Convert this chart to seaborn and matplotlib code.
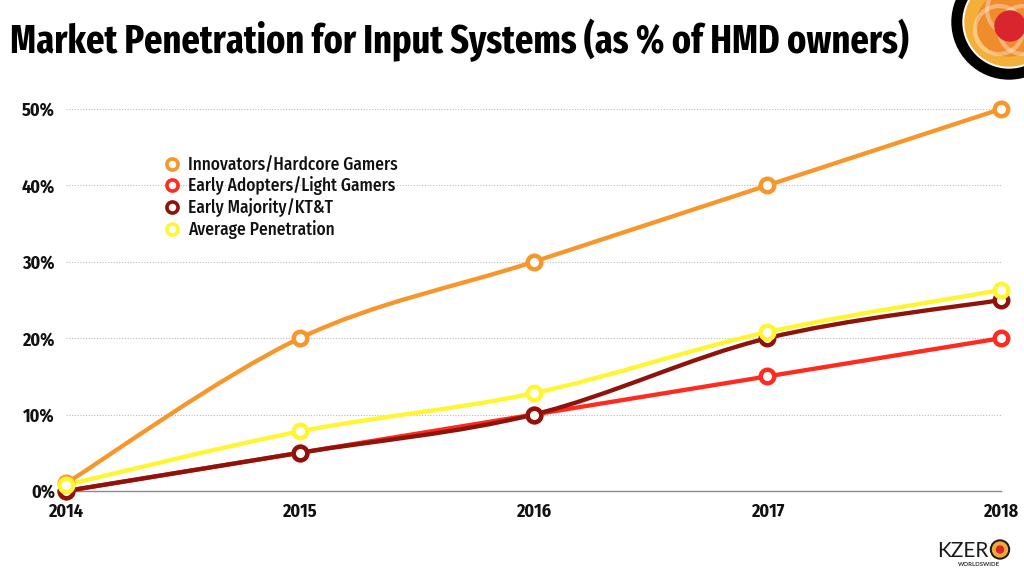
import numpy as np
import matplotlib
matplotlib.use("Agg")
import matplotlib.pyplot as plt
from matplotlib.path import Path
from matplotlib.patches import PathPatch, Circle
from matplotlib.lines import Line2D
import seaborn as sns
import pandas as pd

# --- data ---
years = [2014, 2015, 2016, 2017, 2018]
innovators = [1, 20, 30, 40, 50]
early_adopters = [0, 5, 10, 15, 20]
early_majority = [0, 5, 10, 20, 25]
average_pen = [0.8, 7.8, 12.8, 20.8, 26.3]

series_names = ["Innovators/Hardcore Gamers", "Early Adopters/Light Gamers",
                "Early Majority/KT&T", "Average Penetration"]
series_values = [innovators, early_adopters, early_majority, average_pen]
series_colors = ["#F7962B", "#FF2B1F", "#8E140B", "#FFF531"]
draw_order = [3, 2, 1, 0]   # yellow at the bottom, orange on top

y_ticks = [0, 10, 20, 30, 40, 50]

TITLE_FONT = ["Fira Sans Extra Condensed", "DejaVu Sans"]
LABEL_FONT = ["Fira Sans Condensed", "DejaVu Sans"]


def smooth_path(xs, ys):
    """Excel-style smoothed line: cubic bezier segments through every point."""
    pts = np.column_stack([xs, ys]).astype(float)
    ext = np.vstack([pts[0], pts, pts[-1]])
    verts = [tuple(pts[0])]
    codes = [Path.MOVETO]
    for i in range(len(pts) - 1):
        p0, p1, p2, p3 = ext[i], ext[i + 1], ext[i + 2], ext[i + 3]
        c1 = p1 + (p2 - p0) / 6.0
        c2 = p2 - (p3 - p1) / 6.0
        verts += [tuple(c1), tuple(c2), tuple(p2)]
        codes += [Path.CURVE4] * 3
    return Path(verts, codes)


sns.set_theme(style="white")
plt.rcParams["font.family"] = LABEL_FONT

fig = plt.figure(figsize=(10.24, 5.75), dpi=100)
ax = fig.add_axes([66 / 1024, 1 - 491 / 575, (1001 - 66) / 1024, (491 - 109) / 575])

df = pd.DataFrame({"year": years})
for idx in draw_order:
    df["value"] = series_values[idx]
    patch = PathPatch(smooth_path(years, series_values[idx]), facecolor="none",
                      edgecolor=series_colors[idx], lw=3.1, capstyle="round",
                      joinstyle="round", zorder=3 + idx * 0.1, clip_on=False)
    ax.add_patch(patch)
    sns.scatterplot(data=df, x="year", y="value", ax=ax, s=95, marker="o",
                    facecolor="white", edgecolor=series_colors[idx], linewidth=3.2,
                    zorder=4 + idx * 0.1, clip_on=False, legend=False)

ax.set_xlim(years[0], years[-1])
ax.set_ylim(0, 50)
ax.set_xticks(years)
ax.set_xticklabels([str(y) for y in years], fontsize=13, fontweight="bold",
                   family=LABEL_FONT, color="#111111")
ax.set_yticks(y_ticks)
ax.set_yticklabels([f"{t}%" for t in y_ticks], fontsize=13, fontweight="bold",
                   family=LABEL_FONT, color="#111111")
ax.tick_params(axis="x", length=0, pad=9)
ax.tick_params(axis="y", length=0, pad=8)
ax.set_xlabel("")
ax.set_ylabel("")

for t in y_ticks[1:]:
    ax.axhline(t, color="#BBBBBB", lw=0.8, ls=(0, (1, 1.5)), zorder=1)
for side in ["top", "right", "left"]:
    ax.spines[side].set_visible(False)
ax.spines["bottom"].set_color("#8A8A8A")
ax.spines["bottom"].set_linewidth(1.0)

handles = [Line2D([0], [0], marker="o", linestyle="none", markersize=8,
                  markerfacecolor="white", markeredgecolor=c, markeredgewidth=2.6)
           for c in series_colors]
leg = ax.legend(handles, series_names, loc="upper left",
                bbox_to_anchor=(146 / 1024, 1 - 140 / 575), bbox_transform=fig.transFigure,
                frameon=False, handletextpad=0.3, labelspacing=0.17,
                prop={"family": LABEL_FONT, "size": 12.5, "weight": "medium"},
                handlelength=1.2, labelcolor="#111111")

fig.text(10 / 1024, 1 - 40 / 575, "Market Penetration for Input Systems (as % of HMD owners)",
         fontsize=28.3, fontweight="bold", family=TITLE_FONT, va="center", ha="left",
         color="black")

# --- logos, drawn in pixel coordinates ---
over = fig.add_axes([0, 0, 1, 1], zorder=-1)
over.set_xlim(0, 1024)
over.set_ylim(575, 0)
over.axis("off")
over.add_patch(Circle((1009, 22), 57, color="black"))
over.add_patch(Circle((1009, 22), 46, color="white"))
over.add_patch(Circle((1009, 22), 44, color="#F4AE3A"))
over.add_patch(Circle((1009, 24), 32, color="#F08C2C"))
for dx, dy in [(-10, 30), (14, 30), (2, 10)]:
    over.add_patch(Circle((1009 + dx, dy), 24, facecolor="none", edgecolor="white",
                          alpha=0.35, lw=3))
over.add_patch(Circle((1010, 26), 15, color="#D9262E"))

fig.text(937 / 1024, 1 - 557 / 575, "KZER", fontsize=15, family=["Lato", "DejaVu Sans"],
         color="#1A1A1A", ha="left", va="baseline")
over.add_patch(Circle((1000, 549.5), 9.5, color="#1A1A1A"))
over.add_patch(Circle((1000, 549.5), 7.5, color="#F2A83A"))
over.add_patch(Circle((1000, 549.5), 3.5, color="#D9262E"))
fig.text(958 / 1024, 1 - 565 / 575, "WORLDSWIDE", fontsize=4.3, fontweight="bold",
         family=["Lato", "DejaVu Sans"], color="#333333", ha="left", va="center")

fig.savefig("out.png", dpi=100, facecolor="white")
